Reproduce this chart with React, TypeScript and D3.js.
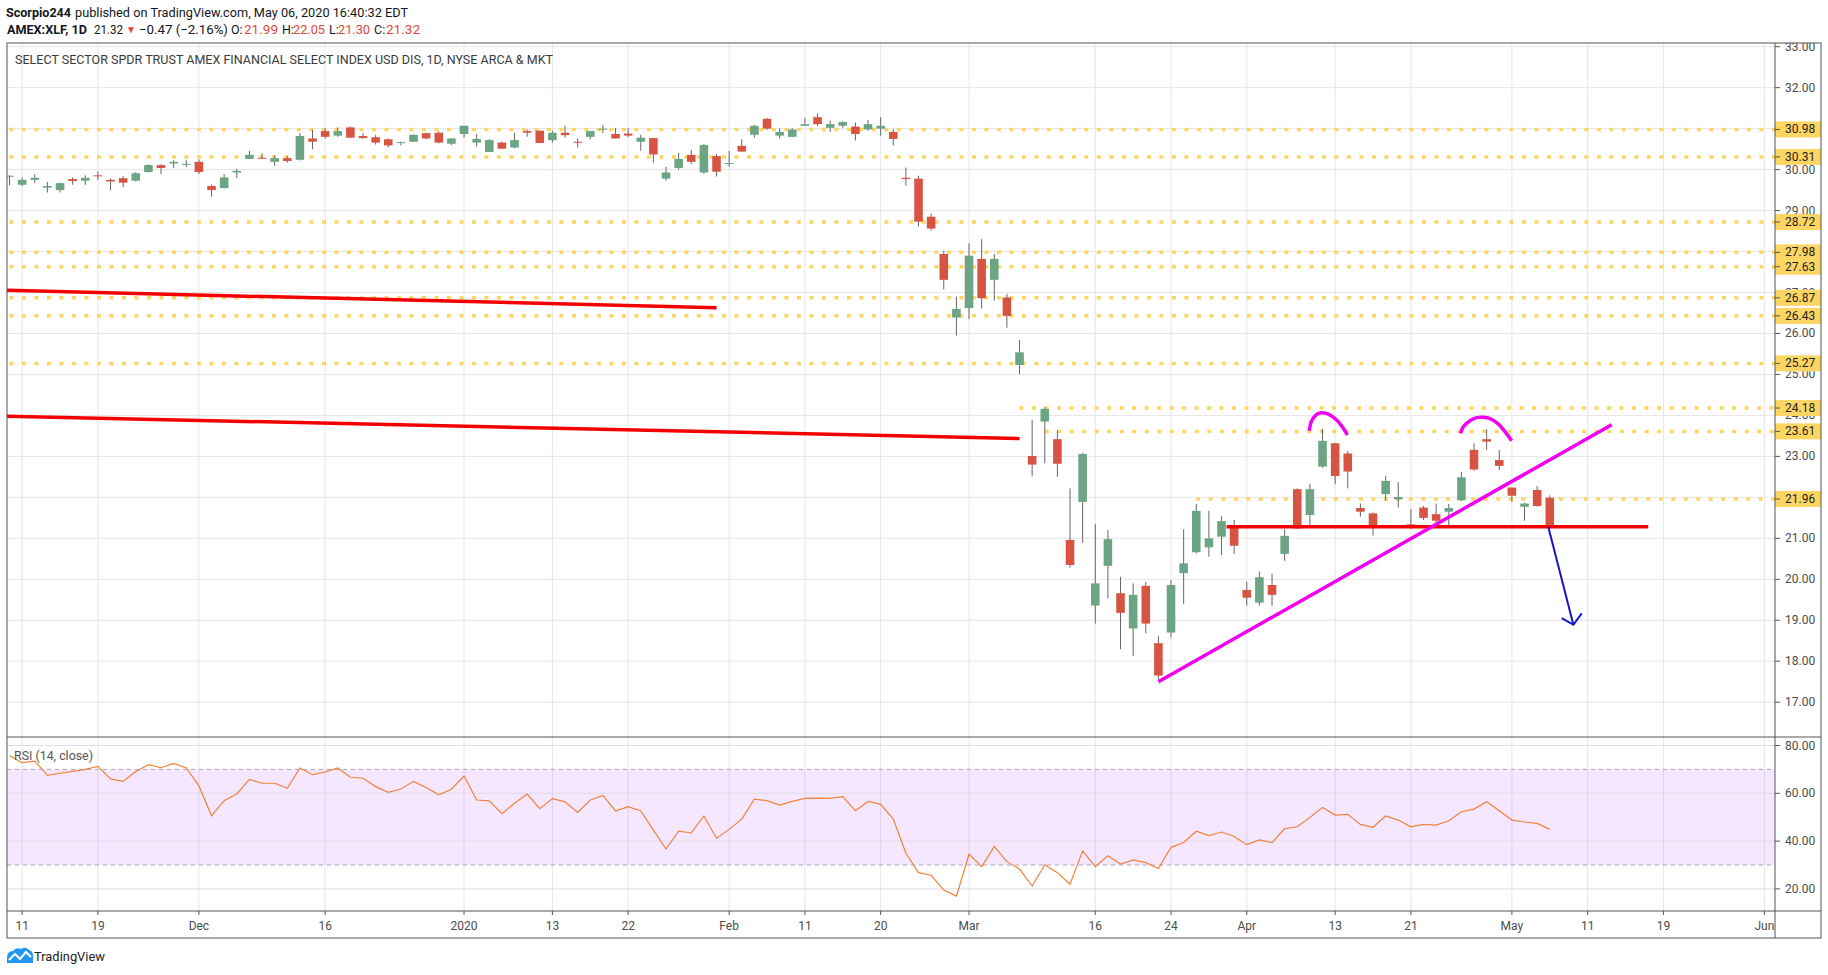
import React from 'react';
import * as d3 from 'd3';

// ---------- DATA ----------
const dates = [
  '2019-11-08','2019-11-11','2019-11-12','2019-11-13','2019-11-14','2019-11-15','2019-11-18','2019-11-19','2019-11-20','2019-11-21','2019-11-22','2019-11-25','2019-11-26','2019-11-27','2019-11-29',
  '2019-12-02','2019-12-03','2019-12-04','2019-12-05','2019-12-06','2019-12-09','2019-12-10','2019-12-11','2019-12-12','2019-12-13','2019-12-16','2019-12-17','2019-12-18','2019-12-19','2019-12-20','2019-12-23','2019-12-24','2019-12-26','2019-12-27','2019-12-30','2019-12-31',
  '2020-01-02','2020-01-03','2020-01-06','2020-01-07','2020-01-08','2020-01-09','2020-01-10','2020-01-13','2020-01-14','2020-01-15','2020-01-16','2020-01-17','2020-01-21','2020-01-22','2020-01-23','2020-01-24','2020-01-27','2020-01-28','2020-01-29','2020-01-30','2020-01-31',
  '2020-02-03','2020-02-04','2020-02-05','2020-02-06','2020-02-07','2020-02-10','2020-02-11','2020-02-12','2020-02-13','2020-02-14','2020-02-18','2020-02-19','2020-02-20','2020-02-21','2020-02-24','2020-02-25','2020-02-26','2020-02-27','2020-02-28',
  '2020-03-02','2020-03-03','2020-03-04','2020-03-05','2020-03-06','2020-03-09','2020-03-10','2020-03-11','2020-03-12','2020-03-13','2020-03-16','2020-03-17','2020-03-18','2020-03-19','2020-03-20','2020-03-23','2020-03-24','2020-03-25','2020-03-26','2020-03-27','2020-03-30','2020-03-31',
  '2020-04-01','2020-04-02','2020-04-03','2020-04-06','2020-04-07','2020-04-08','2020-04-09','2020-04-13','2020-04-14','2020-04-15','2020-04-16','2020-04-17','2020-04-20','2020-04-21','2020-04-22','2020-04-23','2020-04-24','2020-04-27','2020-04-28','2020-04-29','2020-04-30',
  '2020-05-01','2020-05-04','2020-05-05','2020-05-06'
];

const open = [
  29.83, 29.63, 29.75, 29.56, 29.50, 29.77, 29.73, 29.86, 29.75, 29.79, 29.73,
  29.94, 30.11, 30.15, 30.13, 30.19, 29.60, 29.55, 29.93, 30.26, 30.29,
  30.19, 30.28, 30.24, 30.76, 30.94, 30.83, 31.03, 30.82, 30.79, 30.74,
  30.66, 30.68, 30.89, 30.90, 30.63, 30.87, 30.66, 30.43, 30.66, 30.54,
  30.94, 30.95, 30.72, 30.90, 30.68, 30.80, 30.99, 30.87, 30.88, 30.68,
  30.77, 29.78, 30.04, 30.36, 29.93, 30.33, 30.15, 30.58, 30.85, 31.24,
  30.83, 30.80, 31.07, 31.28, 31.02, 31.07, 31.05, 30.98, 31.00, 30.92,
  29.80, 29.78, 28.85, 27.94, 26.39, 26.62, 27.82, 27.31, 26.88, 25.23,
  23.01, 23.85, 23.42, 20.96, 21.89, 19.36, 20.33, 19.66, 18.80, 19.84,
  18.44, 18.70, 20.15, 20.66, 20.78, 21.04, 21.26, 19.74, 19.43, 19.86,
  20.62, 22.20, 21.57, 22.75, 23.32, 23.07, 21.74, 21.61, 22.08, 21.95,
  21.34, 21.75, 21.59, 21.65, 21.93, 23.16, 23.42, 22.91, 22.24, 21.77, 22.18, 21.99
];
const high = [
  29.86, 29.81, 29.89, 29.70, 29.68, 29.81, 29.86, 29.96, 29.79, 29.84, 29.94,
  30.13, 30.13, 30.23, 30.23, 30.25, 29.63, 29.89, 30.02, 30.46, 30.40,
  30.35, 30.33, 30.89, 30.97, 31.01, 31.03, 31.05, 30.89, 30.85, 30.76,
  30.68, 30.85, 30.90, 30.94, 30.76, 31.07, 30.87, 30.74, 30.68, 30.90,
  30.98, 30.95, 30.95, 31.07, 30.76, 30.94, 31.09, 31.01, 31.01, 30.85,
  30.77, 30.07, 30.41, 30.48, 30.63, 30.38, 30.46, 30.74, 31.09, 31.26,
  31.01, 31.01, 31.26, 31.37, 31.20, 31.18, 31.15, 31.21, 31.28, 30.99,
  30.05, 29.85, 28.93, 28.02, 26.90, 28.20, 28.30, 27.94, 26.97, 25.84,
  23.89, 24.20, 23.64, 22.22, 23.09, 21.35, 21.20, 20.06, 19.90, 19.94,
  18.62, 19.98, 21.22, 21.84, 21.67, 21.54, 21.45, 19.94, 20.19, 20.14,
  21.22, 22.22, 22.33, 23.67, 23.33, 23.13, 21.85, 21.63, 22.52, 22.37,
  21.71, 21.79, 21.85, 21.84, 22.62, 23.32, 23.66, 23.16, 22.24, 21.87, 22.28, 22.05
];
const low = [
  29.62, 29.60, 29.67, 29.44, 29.44, 29.63, 29.63, 29.75, 29.50, 29.57, 29.71,
  29.93, 29.89, 30.04, 30.06, 29.89, 29.34, 29.54, 29.80, 30.26, 30.26,
  30.09, 30.17, 30.22, 30.50, 30.76, 30.80, 30.78, 30.75, 30.61, 30.54,
  30.59, 30.68, 30.74, 30.64, 30.60, 30.78, 30.56, 30.43, 30.51, 30.52,
  30.80, 30.65, 30.66, 30.78, 30.54, 30.74, 30.89, 30.76, 30.79, 30.46,
  30.17, 29.73, 30.00, 30.14, 29.90, 29.83, 30.07, 30.44, 30.78, 30.97,
  30.76, 30.79, 31.07, 31.07, 30.92, 31.02, 30.71, 30.95, 30.83, 30.59,
  29.61, 28.61, 28.51, 27.08, 25.95, 26.35, 26.61, 26.80, 26.14, 25.01,
  22.51, 22.83, 22.50, 20.28, 20.89, 18.92, 19.53, 18.29, 18.13, 18.68,
  17.54, 18.58, 19.40, 20.63, 20.55, 20.59, 20.62, 19.36, 19.36, 19.35,
  20.45, 21.24, 21.30, 22.72, 22.32, 22.22, 21.53, 21.06, 21.92, 21.75,
  21.23, 21.45, 21.36, 21.32, 21.91, 22.65, 23.16, 22.67, 21.89, 21.43, 21.77, 21.30
];
const close = [
  29.85, 29.75, 29.80, 29.60, 29.67, 29.72, 29.80, 29.84, 29.71, 29.68, 29.91,
  30.11, 30.04, 30.19, 30.14, 29.94, 29.50, 29.81, 29.97, 30.36, 30.27,
  30.28, 30.21, 30.82, 30.68, 30.80, 30.94, 30.78, 30.77, 30.66, 30.59,
  30.67, 30.85, 30.76, 30.66, 30.76, 31.07, 30.75, 30.72, 30.51, 30.72,
  30.90, 30.65, 30.90, 30.84, 30.66, 30.94, 31.00, 30.76, 30.83, 30.78,
  30.37, 29.93, 30.26, 30.19, 30.60, 29.95, 30.16, 30.44, 31.07, 31.00,
  30.92, 30.98, 31.11, 31.11, 31.11, 31.16, 30.87, 31.11, 31.07, 30.75,
  29.77, 28.73, 28.56, 27.31, 26.60, 27.90, 26.86, 27.82, 26.43, 25.54,
  22.80, 24.16, 22.82, 20.35, 23.06, 19.90, 20.98, 19.18, 19.62, 18.92,
  17.65, 19.86, 20.39, 21.67, 21.00, 21.42, 20.82, 19.55, 20.05, 19.62,
  21.06, 21.24, 22.20, 23.38, 22.52, 22.63, 21.65, 21.26, 22.40, 22.01,
  21.30, 21.50, 21.43, 21.74, 22.49, 22.68, 23.36, 22.77, 22.04, 21.85, 21.79, 21.32
];
const rsi = [
  75.7, 72.8, 73.5, 67.5, 68.4, 69.2, 70.0, 71.3, 66.0, 65.0, 69.1,
  72.0, 70.7, 72.5, 70.6, 63.1, 50.6, 56.9, 59.7, 65.8, 64.2,
  64.2, 62.1, 70.6, 67.8, 68.9, 70.6, 66.7, 66.3, 62.8, 60.4,
  61.8, 65.0, 62.4, 59.4, 61.7, 67.2, 57.2, 56.8, 51.5, 55.8,
  59.7, 53.6, 57.8, 56.4, 52.0, 57.2, 59.1, 52.6, 54.4, 52.6,
  44.6, 36.7, 44.2, 43.4, 50.5, 41.2, 44.9, 49.2, 57.6, 56.9,
  55.1, 56.6, 57.9, 58.0, 57.9, 58.6, 52.7, 56.6, 55.4, 49.2,
  34.9, 26.8, 25.7, 19.5, 17.0, 34.5, 29.3, 37.7, 31.4, 28.3,
  21.2, 30.1, 26.8, 22.0, 35.9, 29.3, 33.9, 30.4, 32.1, 31.0,
  28.5, 37.4, 39.4, 44.1, 42.3, 43.8, 41.9, 38.5, 40.5, 39.4,
  45.2, 46.0, 49.9, 54.1, 50.9, 51.2, 47.0, 45.8, 50.5, 48.8,
  46.0, 47.0, 46.7, 48.5, 52.3, 53.4, 56.5, 52.7, 48.8, 48.0, 47.4, 44.9
];

// session index of each time-axis tick (0 = 2019-11-08) and its label
const tickIdx = [1, 7, 15, 25, 36, 43, 49, 57, 63, 69, 76, 86, 92, 98, 105, 111, 119, 125, 131, 139];
const tickLabels = ['11', '19', 'Dec', '16', '2020', '13', '22', 'Feb', '11', '20', 'Mar', '16', '24', 'Apr', '13', '21', 'May', '11', '19', 'Jun'];

const priceTicks = [17, 18, 19, 20, 21, 22, 23, 24, 25, 26, 27, 28, 29, 30, 31, 32, 33];
const rsiTicks = [20, 40, 60, 80];

// horizontal support/resistance levels and the session where each starts
const levelPrices = [30.98, 30.31, 28.72, 27.98, 27.63, 26.87, 26.43, 25.27, 24.18, 23.61, 21.96];
const levelStart = [-1, -1, -1, -1, -1, -1, -1, -1, 80, 82, 94];

// drawings, as [session index, price]
const redLine1 = [[-1, 27.06], [56, 26.63]];
const redLine2 = [[-1, 23.988], [80, 23.437]];
const redLine3 = [[96.4, 21.28], [129.8, 21.28]];
const pinkTrend = [[91.0, 17.5], [126.9, 23.77]];
const arc1 = [[102.95, 23.627], [103.14, 23.872], [103.54, 24.026], [103.93, 24.067], [104.46, 24.034], [105.12, 23.888], [105.65, 23.684], [105.96, 23.522]];
const arc2 = [[114.94, 23.562], [115.15, 23.725], [115.68, 23.871], [116.21, 23.945], [116.74, 23.953], [117.27, 23.92], [117.93, 23.79], [118.45, 23.603], [118.98, 23.383]];
const arrowShaft = [[121.88, 21.28], [123.87, 18.89]];
const arrowHead = [[122.95, 19.05], [123.87, 18.89], [124.53, 19.17]];

// ---------- LAYOUT ----------
const W = 1828, H = 975;
const L = 7, R = 1775, AR = 1821, T = 43, MB = 737, RB = 911, B = 938;
const FONT = "Roboto, 'Liberation Sans', Arial, sans-serif";
const GREEN = '#6BA583', RED = '#D75442', WICK = '#666';
const GOLD = '#FDD562';

export default function App() {
  const x = d3.scaleLinear().domain([0, 139]).range([9.525, 1764.4]);
  const y = d3.scaleLinear().domain([17, 33]).range([702.2, 46.7]);
  const yr = d3.scaleLinear().domain([20, 80]).range([888.9, 745.5]);
  const bw = (x(1) - x(0)) * 0.68;

  const pLine = d3.line<number[]>().x(d => x(d[0])).y(d => y(d[1]));
  const arcLine = d3.line<number[]>().x(d => x(d[0])).y(d => y(d[1])).curve(d3.curveCatmullRom);
  const rsiLine = d3.line<number>().x((_, i) => x(i)).y(d => yr(d));

  // tick labels entirely hidden under a level label are not drawn
  const visibleTicks = priceTicks.filter(p => levelPrices.every(l => Math.abs(y(p) - y(l)) > 4));

  return (
    <svg width={W} height={H} style={{ position: 'absolute', left: 0, top: 0, background: '#fff' }} fontFamily={FONT}>
      <defs>
        <clipPath id="mainClip"><rect x={L} y={T} width={R - L} height={MB - T} /></clipPath>
        <clipPath id="rsiClip"><rect x={L} y={MB} width={R - L} height={RB - MB} /></clipPath>
        <clipPath id="axisClip"><rect x={R} y={T} width={AR - R} height={MB - T} /></clipPath>
      </defs>
      <rect x={0} y={0} width={W} height={H} fill="#fff" />

      {/* header */}
      <text x={6} y={17} fontSize={12.5} fill="#131722" fontWeight="bold" textLength={65} lengthAdjust="spacingAndGlyphs">Scorpio244</text>
      <text x={75} y={17} fontSize={12.5} fill="#131722" textLength={333} lengthAdjust="spacingAndGlyphs">published on TradingView.com, May 06, 2020 16:40:32 EDT</text>
      <text x={7} y={34} fontSize={12.5} fill="#131722" fontWeight="bold" textLength={80} lengthAdjust="spacingAndGlyphs">AMEX:XLF, 1D</text>
      <text x={94} y={34} fontSize={12.5} fill="#131722" textLength={29} lengthAdjust="spacingAndGlyphs">21.32</text>
      <text x={126} y={33} fontSize={10} fill="#E0463B">▼</text>
      <text x={139} y={34} fontSize={12.5} fill="#131722" textLength={89} lengthAdjust="spacingAndGlyphs">−0.47 (−2.16%)</text>
      <text x={231} y={34} fontSize={12.5} fill="#131722">O:</text>
      <text x={244} y={34} fontSize={12.5} fill="#E0463B" textLength={34} lengthAdjust="spacingAndGlyphs">21.99</text>
      <text x={282} y={34} fontSize={12.5} fill="#131722">H:</text>
      <text x={293} y={34} fontSize={12.5} fill="#E0463B" textLength={32} lengthAdjust="spacingAndGlyphs">22.05</text>
      <text x={329} y={34} fontSize={12.5} fill="#131722">L:</text>
      <text x={338} y={34} fontSize={12.5} fill="#E0463B" textLength={32} lengthAdjust="spacingAndGlyphs">21.30</text>
      <text x={374} y={34} fontSize={12.5} fill="#131722">C:</text>
      <text x={386} y={34} fontSize={12.5} fill="#E0463B" textLength={34} lengthAdjust="spacingAndGlyphs">21.32</text>

      {/* grid: vertical */}
      {tickIdx.map((t, i) => (
        <g key={'vg' + i}>
          <line x1={x(t)} x2={x(t)} y1={T} y2={MB} stroke="#e6e6e6" />
          <line x1={x(t)} x2={x(t)} y1={MB} y2={RB} stroke="#e6e6e6" />
        </g>
      ))}
      {/* grid: horizontal main */}
      {priceTicks.map(p => (
        <line key={'hg' + p} x1={L} x2={R} y1={y(p)} y2={y(p)} stroke="#e6e6e6" />
      ))}

      {/* RSI pane */}
      <g clipPath="url(#rsiClip)">
        <rect x={L} y={yr(70)} width={R - L} height={yr(30) - yr(70)} fill="rgb(153,21,255)" fillOpacity={0.1} />
        {rsiTicks.map(r => (
          <line key={'rg' + r} x1={L} x2={R} y1={yr(r)} y2={yr(r)} stroke="#e0dbe6" />
        ))}
        <line x1={L} x2={R} y1={yr(70)} y2={yr(70)} stroke="#a9a4b4" strokeDasharray="4 4" />
        <line x1={L} x2={R} y1={yr(30)} y2={yr(30)} stroke="#a9a4b4" strokeDasharray="4 4" />
        <path d={rsiLine(rsi) || ''} fill="none" stroke="#F0823A" strokeWidth={1.2} />
      </g>
      <text x={14} y={760} fontSize={12} fill="#555" textLength={79} lengthAdjust="spacingAndGlyphs">RSI (14, close)</text>

      {/* main pane */}
      <g clipPath="url(#mainClip)">
        {levelPrices.map((p, i) => (
          <line key={'lv' + i} x1={x(levelStart[i])} x2={R} y1={y(p)} y2={y(p)} stroke={GOLD} strokeWidth={3.5} strokeDasharray="4 8.5" />
        ))}
        {open.map((o, i) => {
          const c = close[i];
          const up = c >= o;
          const top = y(Math.max(o, c));
          const bot = y(Math.min(o, c));
          return (
            <g key={'c' + i}>
              <line x1={x(i)} x2={x(i)} y1={y(high[i])} y2={y(low[i])} stroke={WICK} strokeWidth={1} />
              <rect x={x(i) - bw / 2} y={top} width={bw} height={Math.max(1, bot - top)} fill={up ? GREEN : RED} />
            </g>
          );
        })}
        <path d={pLine(redLine1) || ''} stroke="#F40000" strokeWidth={3.5} fill="none" />
        <path d={pLine(redLine2) || ''} stroke="#F40000" strokeWidth={3.5} fill="none" />
        <path d={pLine(redLine3) || ''} stroke="#F40000" strokeWidth={3.5} fill="none" />
        <path d={pLine(pinkTrend) || ''} stroke="#F000F0" strokeWidth={3.5} fill="none" />
        <path d={arcLine(arc1) || ''} stroke="#F000F0" strokeWidth={3.5} fill="none" />
        <path d={arcLine(arc2) || ''} stroke="#F000F0" strokeWidth={3.5} fill="none" />
        <path d={pLine(arrowShaft) || ''} stroke="#1515C8" strokeWidth={2} fill="none" />
        <path d={pLine(arrowHead) || ''} stroke="#1515C8" strokeWidth={2} fill="none" />
      </g>
      <text x={15} y={64} fontSize={12} fill="#3a3a3a" textLength={538} lengthAdjust="spacingAndGlyphs">SELECT SECTOR SPDR TRUST AMEX FINANCIAL SELECT INDEX USD DIS, 1D, NYSE ARCA &amp; MKT</text>

      {/* price axis */}
      <g clipPath="url(#axisClip)">
        {priceTicks.map(p => (
          <line key={'ptl' + p} x1={R} x2={R + 5} y1={y(p)} y2={y(p)} stroke="#555" />
        ))}
        {visibleTicks.map(p => (
          <text key={'pt' + p} x={1785} y={y(p) + 4} fontSize={12} fill="#4c4c4c">{d3.format('.2f')(p)}</text>
        ))}
        {levelPrices.map((p, i) => (
          <g key={'lb' + i}>
            <rect x={R} y={y(p) - 8} width={AR - R} height={16} fill={GOLD} />
            <line x1={R} x2={R + 5} y1={y(p)} y2={y(p)} stroke="#555" />
            <text x={1785} y={y(p) + 4} fontSize={12} fill="#1e1e1e">{d3.format('.2f')(p)}</text>
          </g>
        ))}
      </g>
      {rsiTicks.map(r => (
        <g key={'rt' + r}>
          <line x1={R} x2={R + 5} y1={yr(r)} y2={yr(r)} stroke="#555" />
          <text x={1785} y={yr(r) + 4} fontSize={12} fill="#4c4c4c">{d3.format('.2f')(r)}</text>
        </g>
      ))}

      {/* time axis */}
      {tickIdx.map((t, i) => (
        <g key={'tt' + i}>
          <line x1={x(t)} x2={x(t)} y1={RB} y2={RB + 4} stroke="#555" />
          <text x={x(t)} y={930} fontSize={12} fill="#4c4c4c" textAnchor="middle">{tickLabels[i]}</text>
        </g>
      ))}

      {/* frame */}
      <rect x={L} y={T} width={AR - L} height={B - T} fill="none" stroke="#555" />
      <line x1={R} x2={R} y1={T} y2={B} stroke="#555" />
      <line x1={L} x2={AR} y1={MB} y2={MB} stroke="#555" />
      <line x1={L} x2={AR} y1={RB} y2={RB} stroke="#555" />

      {/* footer logo */}
      <g>
        <path d="M7,963 L7,958 Q7,951 13,951 Q16,947 21,949 Q25,946 29,950 Q33,951 33,956 L33,963 Z" fill="#2196F3" />
        <polyline points="9,960 15,954 20,959 26,952 31,957" fill="none" stroke="#fff" strokeWidth={2} />
      </g>
      <text x={34} y={961} fontSize={13} fill="#222" textLength={71} lengthAdjust="spacingAndGlyphs">TradingView</text>
    </svg>
  );
}
